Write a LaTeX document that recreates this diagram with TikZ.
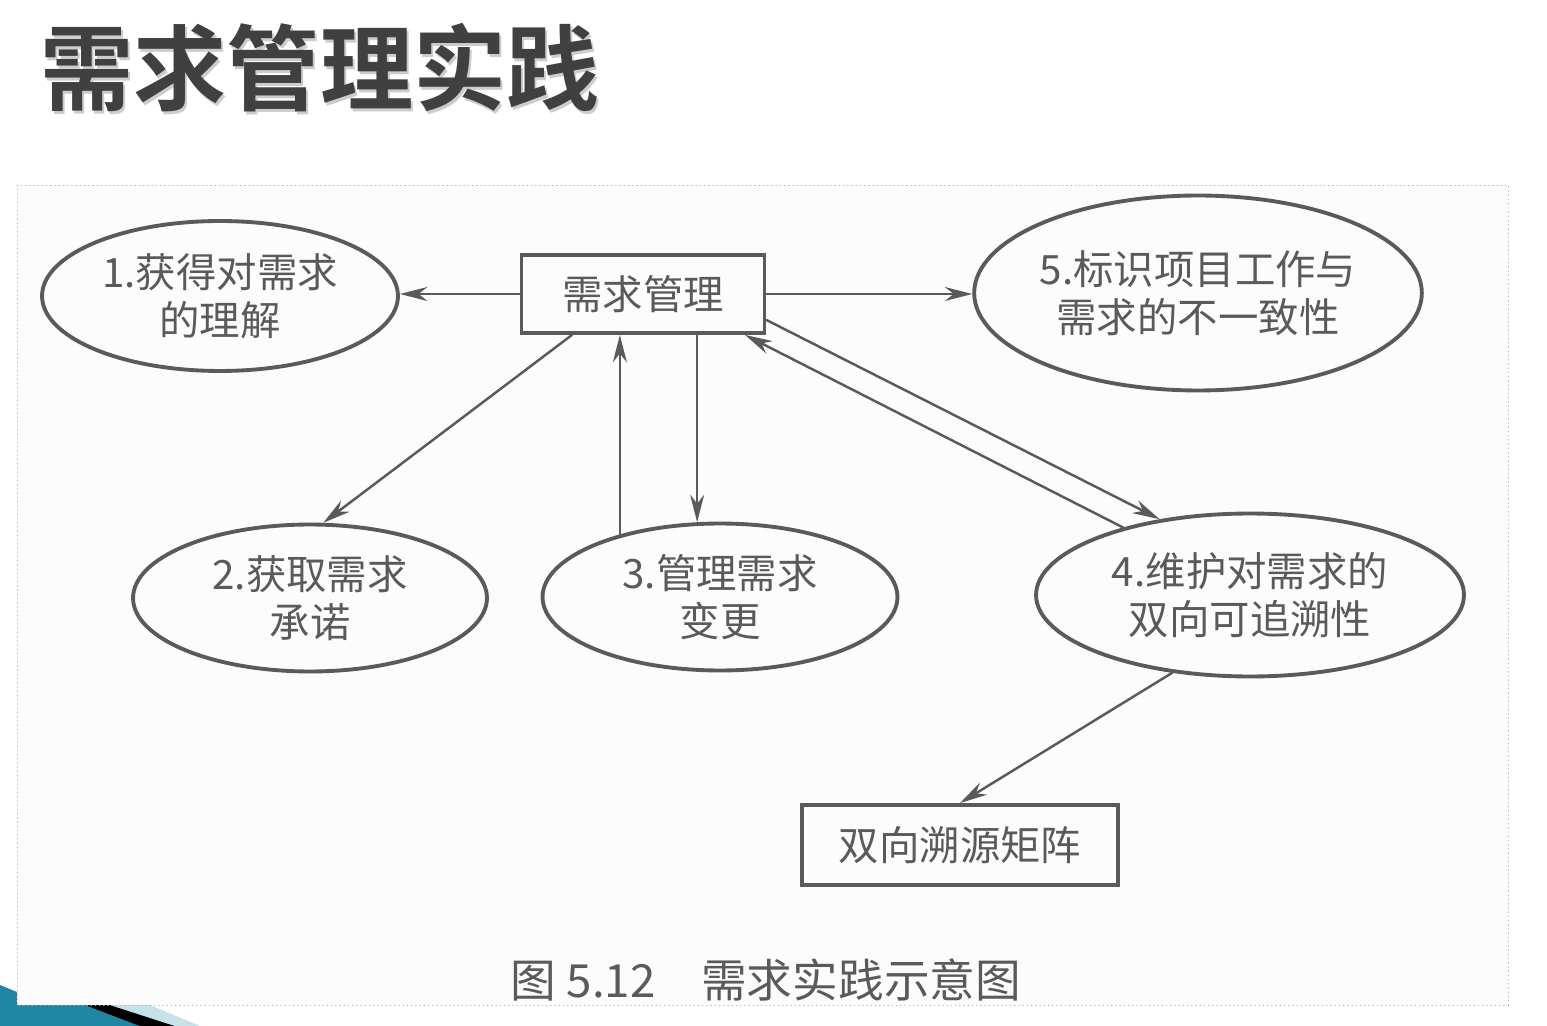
\documentclass[tikz,border=0pt]{standalone}
\usepackage{fontspec}
\newfontfamily\cjk{Noto Sans CJK SC}
\newfontfamily\cjkbold{Noto Sans CJK SC Bold}
\usetikzlibrary{arrows.meta,shapes.geometric}
\definecolor{inkgray}{HTML}{5A5A5A}
\definecolor{titlegray}{HTML}{404040}
\definecolor{slideteal}{HTML}{1F86A3}

\begin{document}
\begin{tikzpicture}[x=0.02cm,y=-0.02cm,>={Stealth[length=5.5mm,width=2.8mm]},line cap=round,
  txt/.style={text=inkgray,font=\cjk\fontsize{23}{27}\selectfont,align=center},
  oval/.style={txt,ellipse,draw=inkgray,line width=2.2pt,inner sep=0pt},
  rect/.style={txt,draw=inkgray,line width=2.2pt,inner sep=0pt},
  conn/.style={->,draw=inkgray,line width=1.4pt}]
\useasboundingbox (0,0) rectangle (1547,1026);
\fill[white] (0,0) rectangle (1547,1026);
\fill[slideteal] (0,985) -- (17,992) -- (17,1005) -- (120,1005) -- (185,1026) -- (0,1026) -- cycle;
\fill[black] (85,1005) -- (110,1005) -- (175,1026) -- (140,1026) -- cycle;
\fill[slideteal!25] (110,1005) -- (150,1005) -- (200,1026) -- (175,1026) -- cycle;
\fill[black!1] (17,185) rectangle (1508,1005);
\draw[gray!60,dotted] (17,185) rectangle (1508,1005);
\node[text=gray!40,font=\cjkbold\fontsize{53}{60}\selectfont] at (322,71) {需求管理实践};
\node[text=titlegray,font=\cjkbold\fontsize{53}{60}\selectfont] (title) at (320,68) {需求管理实践};

\node[rect,minimum width=4.86cm,minimum height=1.56cm] (mgmt) at (643,294) {需求管理};
\node[oval,minimum width=7.12cm,minimum height=3cm] (e1) at (220,296) {1.获得对需求\\的理解};
\node[oval,minimum width=8.9cm,minimum height=3.9cm] (e5) at (1198,293) {5.标识项目工作与\\需求的不一致性};
\node[oval,minimum width=7.08cm,minimum height=2.94cm] (e2) at (310,598) {2.获取需求\\承诺};
\node[oval,minimum width=7.1cm,minimum height=2.94cm] (e3) at (720,597) {3.管理需求\\变更};
\node[oval,minimum width=8.56cm,minimum height=3.26cm] (e4) at (1250,595) {4.维护对需求的\\双向可追溯性};
\node[rect,minimum width=6.32cm,minimum height=1.6cm] (matrix) at (960,845) {双向溯源矩阵};

\draw[conn] (mgmt.west) -- (mgmt.west -| e1.east);
\draw[conn] (mgmt.east) -- (mgmt.east -| e5.west);
\draw[conn] ([xshift=-1.42cm]mgmt.south) -- (e2.80);
\draw[conn] (e3.148.6) -- (e3.148.6 |- mgmt.south);
\draw[conn] (mgmt.south -| e3.107) -- (e3.107);
\draw[conn] ([yshift=-0.52cm]mgmt.east) -- (e4.140);
\draw[conn] (e4.152) -- ([xshift=2.04cm]mgmt.south);
\draw[conn] (e4.225) -- (matrix.north);

\node[txt,font=\cjk\fontsize{26}{30}\selectfont] (caption) at (766,980) {图 5.12\hspace{1em}需求实践示意图};
\end{tikzpicture}
\end{document}
